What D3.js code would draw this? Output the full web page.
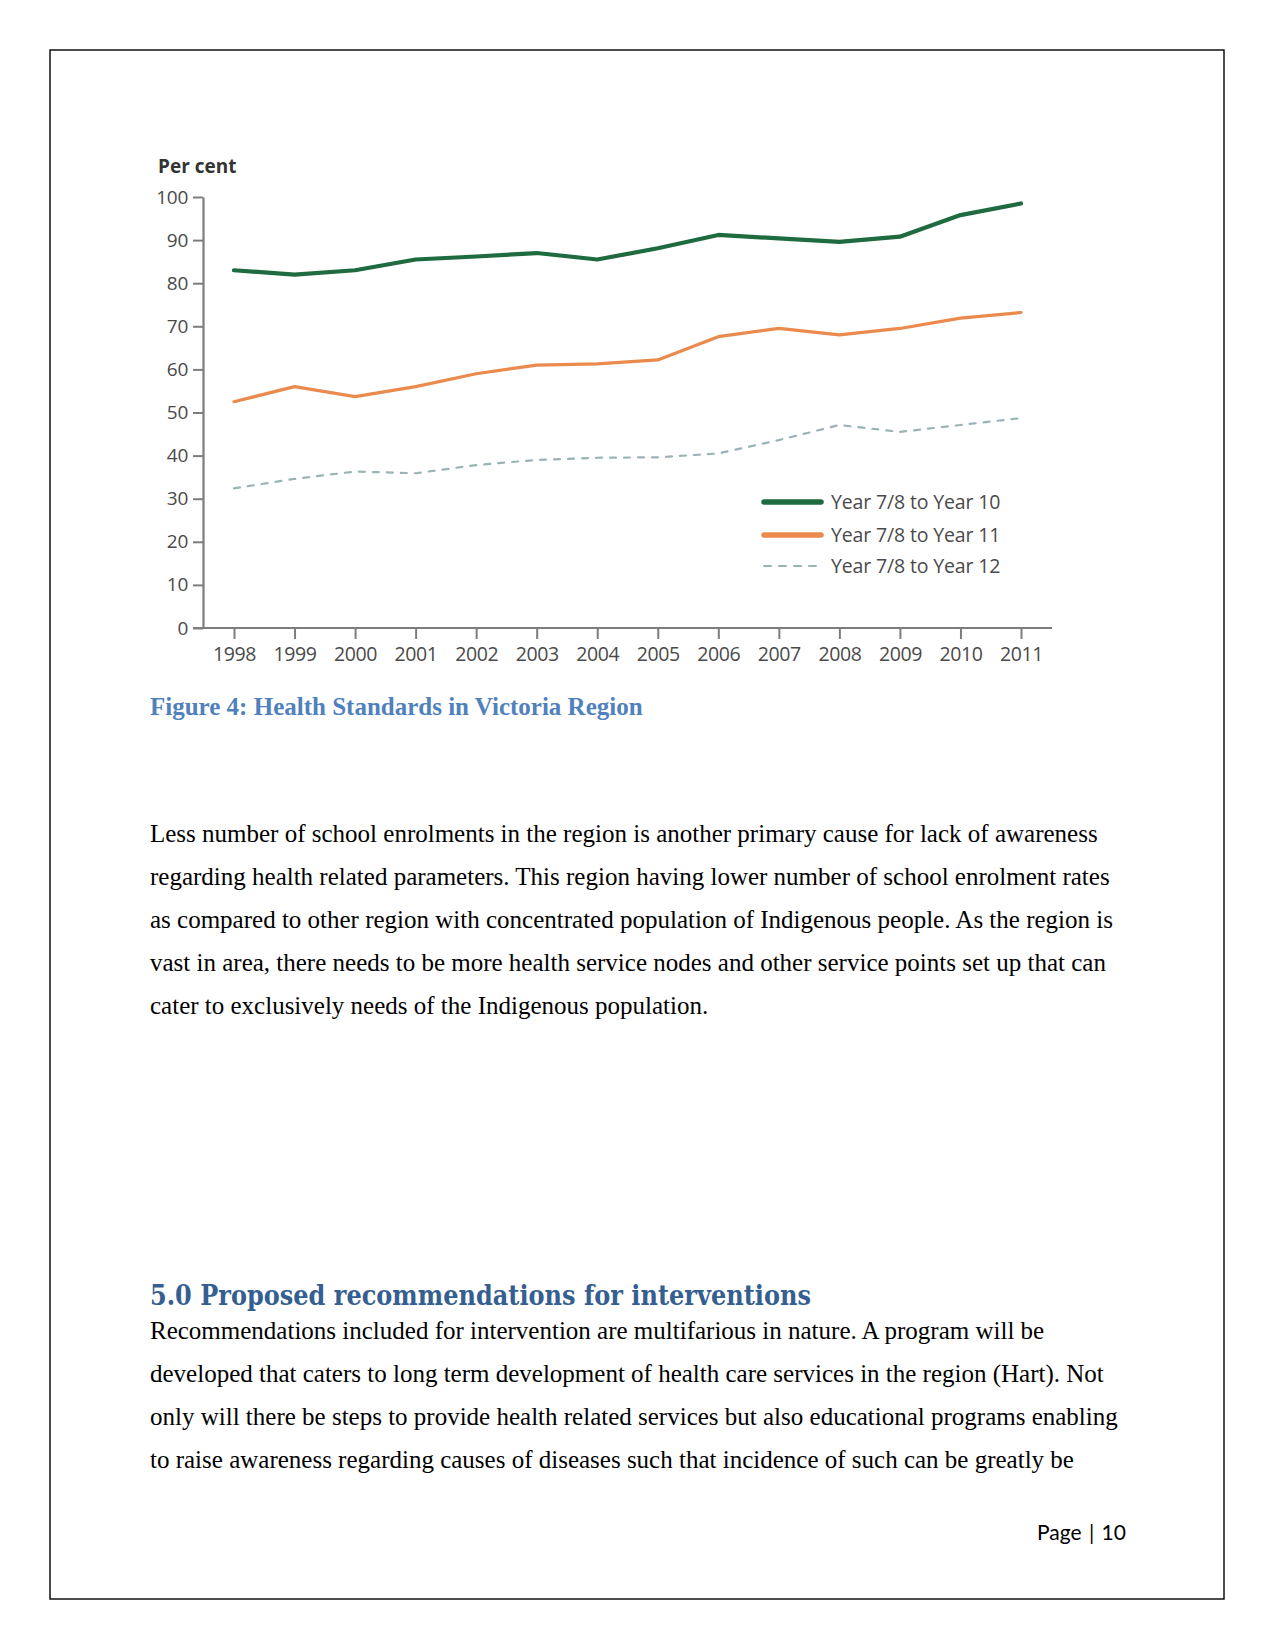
<!DOCTYPE html>
<html>
<head>
<meta charset="utf-8">
<script src="https://cdn.jsdelivr.net/npm/d3@7"></script>
<style>
  html, body { margin: 0; padding: 0; background: #fff; }
  svg { display: block; }
</style>
</head>
<body>
<svg id="page" width="1275" height="1650"></svg>
<script>
// ---------- data ----------
const years = ["1998","1999","2000","2001","2002","2003","2004","2005","2006","2007","2008","2009","2010","2011"];
const year10 = [83, 82, 83, 85.5, 86.2, 87, 85.5, 88.1, 91.2, 90.4, 89.6, 90.8, 95.8, 98.5];
const year11 = [52.5, 56, 53.7, 56, 59, 61, 61.3, 62.2, 67.6, 69.5, 68, 69.5, 71.9, 73.2];
const year12 = [32.4, 34.6, 36.3, 35.9, 37.8, 39, 39.5, 39.6, 40.5, 43.6, 47.1, 45.5, 47.1, 48.7];
const seriesNames = ["Year 7/8 to Year 10", "Year 7/8 to Year 11", "Year 7/8 to Year 12"];
const yTicks = [0, 10, 20, 30, 40, 50, 60, 70, 80, 90, 100];
const yTitle = "Per cent";
const caption = "Figure 4: Health Standards in Victoria Region";
const para1 = [
  "Less number of school enrolments in the region is another primary cause for lack of awareness",
  "regarding health related parameters. This region having lower number of school enrolment rates",
  "as compared to other region with concentrated population of Indigenous people. As the region is",
  "vast in area, there needs to be more health service nodes and other service points set up that can",
  "cater to exclusively needs of the Indigenous population."
];
const heading = "5.0 Proposed recommendations for interventions";
const para2 = [
  "Recommendations included for intervention are multifarious in nature. A program will be",
  "developed that caters to long term development of health care services in the region (Hart). Not",
  "only will there be steps to provide health related services but also educational programs enabling",
  "to raise awareness regarding causes of diseases such that incidence of such can be greatly be"
];
const footer = "Page | 10";

// ---------- page ----------
const svg = d3.select("#page");
svg.append("rect").attr("x", 50).attr("y", 50).attr("width", 1174).attr("height", 1549)
  .attr("fill", "none").attr("stroke", "#000").attr("stroke-width", 1.4);

// ---------- chart ----------
const x = d3.scalePoint().domain(years).range([234, 1021]);
const y = d3.scaleLinear().domain([0, 100]).range([628, 197]);
const axisColor = "#7d7d7d";
const labelColor = "#4a4a4a";
const chartFont = "'Open Sans', 'DejaVu Sans', sans-serif";

const g = svg.append("g");

// y axis
const yAxis = g.append("g").attr("transform", "translate(203,0)")
  .call(d3.axisLeft(y).tickValues(yTicks).tickSize(10).tickSizeOuter(0).tickPadding(5));
yAxis.select(".domain").attr("stroke", axisColor).attr("stroke-width", 2.2);
yAxis.selectAll(".tick line").attr("stroke", axisColor).attr("stroke-width", 2);
yAxis.selectAll(".tick text").attr("fill", labelColor).style("font-family", chartFont)
  .style("font-size", "19px").style("letter-spacing", "-0.3px");

// x axis
const xAxis = g.append("g").attr("transform", "translate(0,628)")
  .call(d3.axisBottom(x).tickSize(11).tickSizeOuter(0).tickPadding(8));
xAxis.select(".domain").remove();
xAxis.selectAll(".tick line").attr("stroke", axisColor).attr("stroke-width", 2);
xAxis.selectAll(".tick text").attr("fill", labelColor).style("font-family", chartFont)
  .style("font-size", "19.5px").style("letter-spacing", "-0.4px");
g.append("line").attr("x1", 193).attr("x2", 1052).attr("y1", y(0)).attr("y2", y(0))
  .attr("stroke", axisColor).attr("stroke-width", 2.2);

// title
g.append("text").attr("x", 158).attr("y", 173).text(yTitle)
  .attr("fill", "#333").style("font-family", chartFont).style("font-weight", "bold")
  .style("font-size", "19px");

// lines
const line = d3.line().x((d, i) => x(years[i])).y(d => y(d));
const styles = [
  { data: year10, color: "#1f6b40", width: 4.2, dash: null },
  { data: year11, color: "#ea8a4d", width: 3.2, dash: null },
  { data: year12, color: "#9bb3b7", width: 2.2, dash: "6,8" }
];
styles.forEach(s => {
  g.append("path").datum(s.data).attr("d", line)
    .attr("fill", "none").attr("stroke", s.color).attr("stroke-width", s.width)
    .attr("stroke-linejoin", "round").attr("stroke-linecap", "round")
    .attr("stroke-dasharray", s.dash);
});

// legend
const legendY = [502, 535, 566];
styles.forEach((s, i) => {
  g.append("line").attr("x1", 764).attr("x2", 821).attr("y1", legendY[i]).attr("y2", legendY[i])
    .attr("stroke", s.color).attr("stroke-width", i === 2 ? 2 : 5.5)
    .attr("stroke-linecap", "round")
    .attr("stroke-dasharray", i === 2 ? "7,8" : null);
  g.append("text").attr("x", 831).attr("y", legendY[i]).attr("dy", "0.35em")
    .text(seriesNames[i]).attr("fill", labelColor)
    .style("font-family", chartFont).style("font-size", "19.5px").style("letter-spacing", "-0.15px");
});

// ---------- document text ----------
const serif = "'Liberation Serif', 'Times New Roman', serif";
svg.append("text").attr("x", 150).attr("y", 715).text(caption)
  .attr("fill", "#4f81bd").style("font-family", serif).style("font-weight", "bold").style("font-size", "25px");

const p1Base = [842, 885, 928, 971, 1014];
para1.forEach((t, i) => {
  svg.append("text").attr("x", 150).attr("y", p1Base[i]).text(t)
    .attr("fill", "#000").style("font-family", serif).style("font-size", "25px");
});

svg.append("text").attr("x", 150).attr("y", 1305).text(heading)
  .attr("fill", "#365f91").style("font-family", "'DejaVu Serif', serif").style("font-weight", "bold")
  .style("font-size", "27px").attr("textLength", 661).attr("lengthAdjust", "spacingAndGlyphs");

const p2Base = [1339, 1382, 1425, 1468];
para2.forEach((t, i) => {
  svg.append("text").attr("x", 150).attr("y", p2Base[i]).text(t)
    .attr("fill", "#000").style("font-family", serif).style("font-size", "25px");
});

svg.append("text").attr("x", 1037).attr("y", 1540).text(footer)
  .attr("fill", "#000").style("font-family", "Lato, 'Open Sans', sans-serif").style("font-size", "21px")
  .style("word-spacing", "2px");
</script>
</body>
</html>
